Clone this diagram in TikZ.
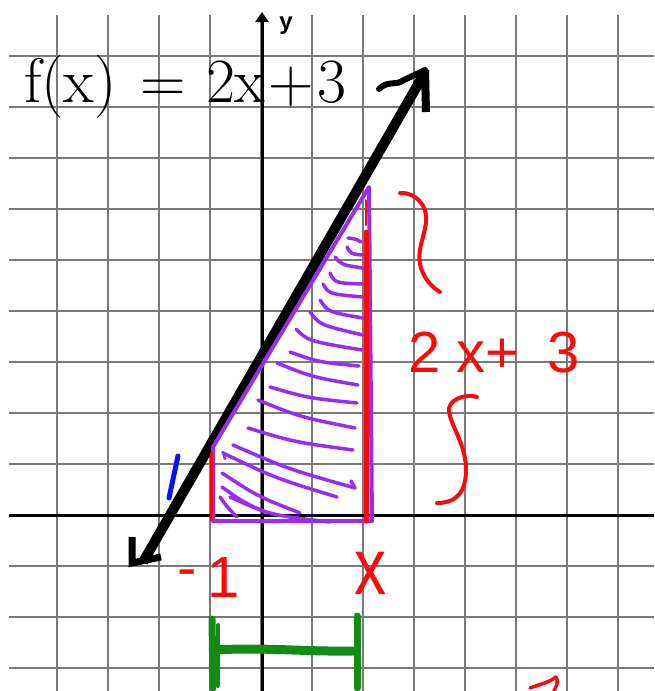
\documentclass[tikz,border=0pt]{standalone}
\usepackage{fontspec}
\newfontfamily\handfont{Liberation Sans}
\newfontfamily\labfont{Liberation Sans}
\usetikzlibrary{arrows.meta}
\definecolor{gridgray}{RGB}{122,122,122}
\definecolor{hpurple}{RGB}{150,45,240}
\definecolor{hred}{RGB}{250,10,10}
\definecolor{hgreen}{RGB}{20,140,20}
\definecolor{hblue}{RGB}{10,20,240}
\tikzset{
  gridline/.style={gridgray, line width=2.6pt},
  axisline/.style={black, line width=3pt},
  graphline/.style={black, line width=10pt},
  arrowstroke/.style={black, line width=7pt},
  hatch/.style={hpurple, line width=3.5pt, line cap=round},
  purpleedge/.style={hpurple, line width=4pt, line join=round, line cap=round},
  redstroke/.style={hred, line width=4pt, line cap=round, line join=round},
  greenstroke/.style={hgreen, line width=7pt, line cap=round},
  handtext/.style={hred, inner sep=0pt},
}
\begin{document}
\begin{tikzpicture}[x=1pt,y=-1pt]
\useasboundingbox (0,0) rectangle (654,691);
\fill[white] (0,0) rectangle (654,691);
% grid
\foreach \x in {57,108,...,618} \draw[gridline] (\x,15) -- (\x,691);
\foreach \y in {56,107,...,668} \draw[gridline] (9,\y) -- (654,\y);
% axes
\draw[axisline] (9,515) -- (654,515);
\draw[axisline, -{Triangle[width=13pt,length=10pt]}] (262,691) -- (262,12);
\node[font=\labfont\bfseries\fontsize{24}{24}\selectfont, inner sep=0pt] (ylab) at (286,26) {y};
% title
\node[anchor=base west, inner sep=0pt, font=\fontsize{63}{63}\selectfont, text=black] (title) at (24,102) {f(x)\hspace{24pt}=\hspace{20pt}2x\hspace{3pt}+\hspace{4pt}3};
% graph line
\coordinate (lo) at (143,562);
\coordinate (hi) at (424,74);
\draw[graphline] (lo) -- (hi);
\draw[arrowstroke, line join=miter] (132,537) -- (132,563) -- (161,557);
\draw[arrowstroke, line width=6pt, line cap=round] (379,89) .. controls (388,80) and (396,86) .. (404,80) -- (425,70);
\draw[arrowstroke, line width=8pt] (425,70) -- (426,112);
% purple region
\coordinate (tA) at (213,447);
\coordinate (tB) at (213,521);
\coordinate (tC) at (372,521);
\coordinate (tD) at (369,187);
\draw[purpleedge] (tA) -- (tB) -- (tC) -- (tD) -- cycle;
\foreach \a/\b/\m/\n/\c/\d in {
  348/238/356/239/361/242, 347/247/351/254/363/255, 335/257/342/265/363/268,
  330/273/335/283/363/284, 323/284/329/294/363/297, 320/300/328/312/363/318,
  310/312/320/325/363/335, 296/329/308/341/362/350, 290/352/318/362/359/366,
  277/363/312/377/358/385, 270/387/308/398/357/403, 258/400/300/417/355/428,
  248/428/294/442/353/450, 233/445/288/469/355/488, 223/453/275/478/337/497,
  222/473/257/496/300/513, 222/487/243/502/267/513, 220/497/228/508/237/517,
  230/497/270/515/330/522}
  \draw[hatch] (\a,\b) .. controls (\m,\n) .. (\c,\d);
\draw[hatch] (355,488) -- (351,481);
\draw[hatch, line width=2.5pt] (223,452) -- (225,459);
% red marks
\draw[redstroke, line width=5pt] (366,232) -- (366,521);
\draw[redstroke, line width=2pt] (366,200) -- (366,225);
\draw[redstroke, line width=3pt] (211,453) -- (211,520);
\draw[redstroke] (400,193) .. controls (415,192) and (428,205) .. (426,222)
  .. controls (424,240) and (416,250) .. (421,268) .. controls (425,280) and (433,288) .. (440,292);
\draw[redstroke] (477,397) .. controls (465,393) and (447,400) .. (449,412)
  .. controls (452,428) and (466,445) .. (466,470) .. controls (466,490) and (458,503) .. (437,503);
\draw[redstroke, line width=3.5pt] (530,688) .. controls (540,684) and (548,683) .. (556,677) .. controls (558,682) .. (554,691);
\node[handtext, anchor=base west, font=\handfont\fontsize{58}{58}\selectfont] (lbl2x3) at (408,372) {2\hspace{16pt}x+\hspace{28pt}3};
\node[handtext, anchor=base west, font=\handfont\fontsize{58}{58}\selectfont] (lblm1) at (177,597) {\raisebox{10pt}{-}\hspace{11pt}1};
\node[handtext, anchor=base, font=\handfont\fontsize{80}{80}\selectfont, xscale=0.8] (lblx) at (370,594) {x};
% blue tick
\draw[hblue, line width=5pt, line cap=round] (178,456) -- (169,498);
% green interval
\draw[greenstroke] (212,619) -- (213,688);
\draw[greenstroke, line width=4pt] (218,625) -- (218,686);
\draw[greenstroke] (357,616) -- (357,688);
\draw[greenstroke, line width=9pt] (216,650) .. controls (260,647) and (310,652) .. (355,651);
\end{tikzpicture}
\end{document}
